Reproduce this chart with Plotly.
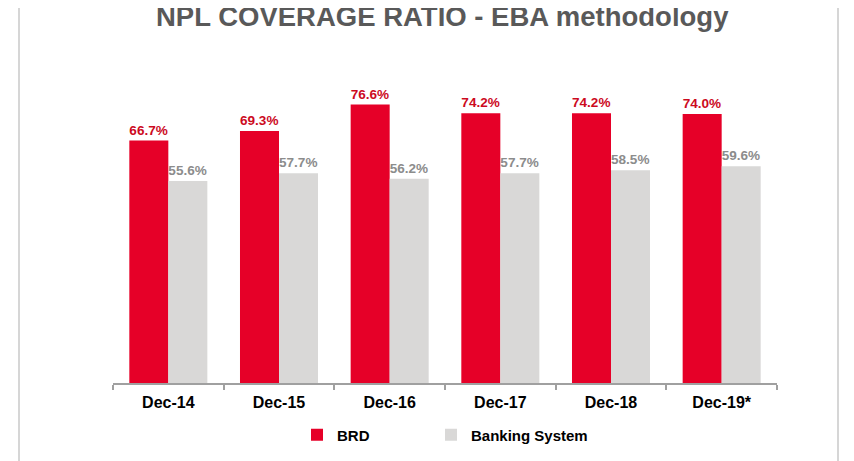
import plotly.graph_objects as go

categories = ["Dec-14", "Dec-15", "Dec-16", "Dec-17", "Dec-18", "Dec-19*"]
brd = [66.7, 69.3, 76.6, 74.2, 74.2, 74.0]
banking = [55.6, 57.7, 56.2, 57.7, 58.5, 59.6]
title_text = "NPL COVERAGE RATIO - EBA methodology"

# page offset (browser body margin)
OFF = 8
W, H = 854 - OFF, 461 - OFF
L, R, T, B = 113 - OFF, 77, 74 - OFF, 78
pw, ph = W - L - R, H - T - B

def px(x):
    return (x - OFF - L) / pw

def py(y):
    return (H - B - (y - OFF)) / ph

def cx(x):
    return (x - OFF) / W

def cy(y):
    return 1 - (y - OFF) / H

FONT = "Liberation Sans, Arial, sans-serif"

fig = go.Figure()
fig.add_trace(go.Bar(
    x=categories, y=brd, name="BRD", legend="legend",
    marker=dict(color="#E60028", line=dict(width=0)),
    texttemplate="%{y:.1f}%", textposition="outside",
    textfont=dict(color="#CC0A1E", size=14, family=FONT, weight="bold"),
    cliponaxis=False,
))
fig.add_trace(go.Bar(
    x=categories, y=banking, name="Banking System", legend="legend2",
    marker=dict(color="#D9D8D7", line=dict(width=0)),
    texttemplate="%{y:.1f}%", textposition="outside",
    textfont=dict(color="#8C8C8C", size=14, family=FONT, weight="bold"),
    cliponaxis=False,
))

legfont = dict(size=15, family=FONT, weight="bold", color="black")

fig.update_layout(
    width=W, height=H,
    margin=dict(l=L, r=R, t=T, b=B),
    paper_bgcolor="white", plot_bgcolor="white",
    barmode="group", bargap=0.295, bargroupgap=0,
    font=dict(family=FONT, color="black"),
    showlegend=True,
    legend=dict(
        orientation="h", xref="container", yref="container",
        x=cx(297), xanchor="left", y=cy(435), yanchor="middle",
        font=legfont, bgcolor="rgba(0,0,0,0)",
    ),
    legend2=dict(
        orientation="h", xref="container", yref="container",
        x=cx(431), xanchor="left", y=cy(435), yanchor="middle",
        font=legfont, bgcolor="rgba(0,0,0,0)",
    ),
    xaxis=dict(
        type="category", showline=True, linecolor="#A0A0A0", linewidth=1.5,
        ticks="outside", tickson="boundaries", ticklen=5, tickcolor="#A0A0A0",
        tickwidth=1.5, ticklabelstandoff=4,
        tickfont=dict(size=16, family=FONT, weight="bold", color="black"),
        showgrid=False, zeroline=False, fixedrange=True, automargin=False,
    ),
    yaxis=dict(visible=False, range=[0, 85], showgrid=False, zeroline=False),
    shapes=[
        dict(type="line", xref="paper", yref="paper", x0=px(19), x1=px(19), y0=py(7), y1=py(470),
             line=dict(color="#C8C8C8", width=1.5)),
        dict(type="line", xref="paper", yref="paper", x0=px(838), x1=px(838), y0=py(7), y1=py(470),
             line=dict(color="#C8C8C8", width=1.5)),
        dict(type="line", xref="paper", yref="paper", x0=px(19), x1=px(146), y0=py(7), y1=py(7),
             line=dict(color="#C8C8C8", width=1.5)),
        dict(type="line", xref="paper", yref="paper", x0=px(737), x1=px(838), y0=py(7), y1=py(7),
             line=dict(color="#C8C8C8", width=1.5)),
    ],
    annotations=[
        dict(text=title_text, xref="paper", yref="paper", x=px(442), y=py(16),
             xanchor="center", yanchor="middle", showarrow=False,
             font=dict(size=27.5, family=FONT, weight="bold", color="#595959")),
    ],
)

fig.write_html("out.html")
